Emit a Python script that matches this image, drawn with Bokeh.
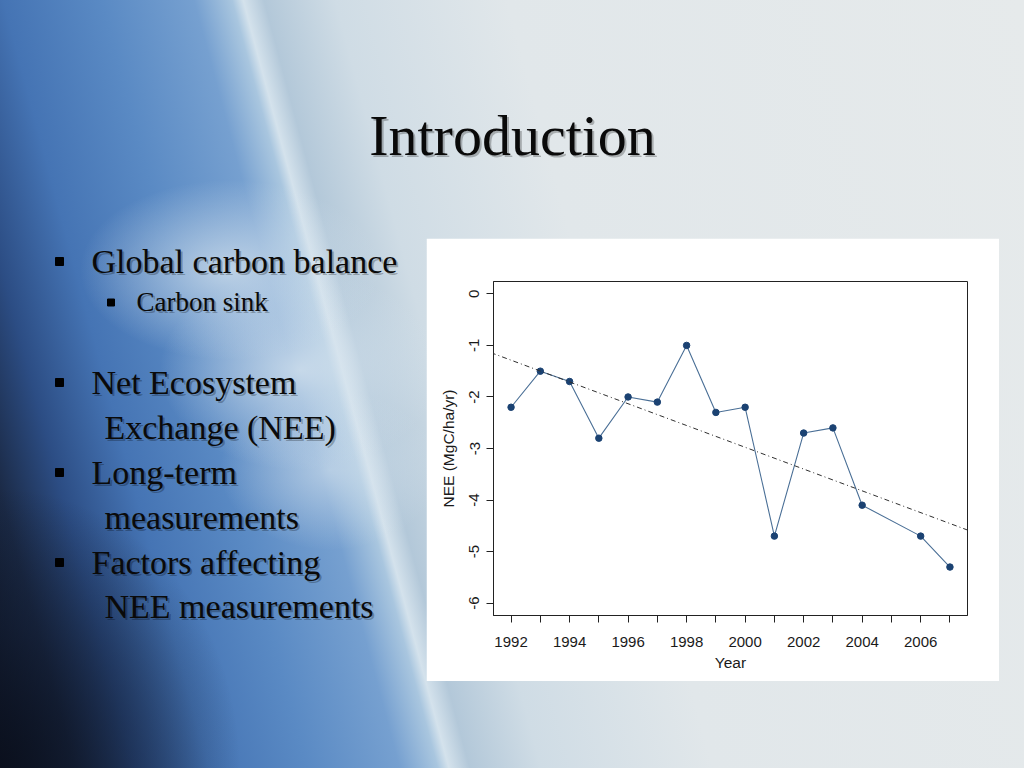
import numpy as np
from bokeh.plotting import figure
from bokeh.models import Label, FixedTicker, Slope, Range1d, GridBox
from bokeh.embed import file_html
from bokeh.resources import INLINE

# ---------------- data ----------------
years = [1992, 1993, 1994, 1995, 1996, 1997, 1998, 1999, 2000, 2001, 2002, 2003, 2004, 2006, 2007]
nee = [-2.2, -1.5, -1.7, -2.8, -2.0, -2.1, -1.0, -2.3, -2.2, -4.7, -2.7, -2.6, -4.1, -4.7, -5.3]

x_ticks = list(range(1992, 2008))
x_tick_labels = {t: (str(t) if (t % 2 == 0 and t <= 2006) else "") for t in x_ticks}
y_ticks = [0, -1, -2, -3, -4, -5, -6]
y_tick_labels = {t: str(t) for t in y_ticks}

slide_title = "Introduction"
bullet_texts = ["Global carbon balance", "Carbon sink", "Net Ecosystem", "Exchange (NEE)",
                "Long-term", "measurements", "Factors affecting", "NEE measurements"]
bullet_levels = [0, 1, 0, 0, 0, 0, 0, 0]
bullet_starts = [True, True, True, False, True, False, True, False]

# trend (least-squares fit of the series, as in the original)
slope, intercept = np.polyfit(years, nee, 1)

# ---------------- slide (background + texts) ----------------
SW, SH = 1024, 768


def glow(cx, cy, rx, ry, a):
    return (f"radial-gradient(ellipse {rx}px {ry}px at {cx}px {cy}px, "
            f"rgba(216,229,239,{a}) 0%, rgba(216,229,239,{a * 0.45:.2f}) 55%, rgba(216,229,239,0) 100%)")


bg = ", ".join([
    glow(230, 270, 150, 90, 0.75),
    glow(300, 370, 140, 100, 0.8),
    glow(330, 470, 110, 80, 0.6),
    "radial-gradient(ellipse 240px 280px at 0px 768px, rgba(10,15,28,0.85) 0%, rgba(14,22,40,0.5) 50%, rgba(20,35,65,0) 100%)",
    "linear-gradient(75deg, #0e1524 0%, #1b2a46 6%, #2c4d84 11%, #4574b4 17%, #5a8ac4 25%, "
    "#76a0d0 32.5%, #a9c6df 35.6%, #d4e2ec 36.5%, #b3c8d9 38.2%, #cfdce5 44%, #e1e7ea 58%, #e6eaeb 100%)",
])

slide = figure(width=SW, height=SH, output_backend="svg", toolbar_location=None,
               x_range=Range1d(0, SW), y_range=Range1d(SH, 0),
               min_border=0, styles={"background": bg})
slide.border_fill_color = None
slide.background_fill_color = None
slide.outline_line_color = None
slide.axis.visible = False
slide.grid.visible = False


def add_text(x, y, text, size, align="left", baseline="alphabetic", shadow=True):
    if shadow:
        slide.add_layout(Label(x=x + 2, y=y + 2, text=text, text_font="Liberation Serif",
                               text_font_size=size, text_color="black", text_alpha=0.25,
                               text_align=align, text_baseline=baseline))
    slide.add_layout(Label(x=x, y=y, text=text, text_font="Liberation Serif",
                           text_font_size=size, text_color="#0a0a0a",
                           text_align=align, text_baseline=baseline))


add_text(512, 135, slide_title, "58px", align="center")

base_y = [272, 312, 393, 438, 483, 528, 573, 617]
TXT_SHIFT = 11
sq_x, sq_y, sq_s = [], [], []
for txt, lvl, st, by in zip(bullet_texts, bullet_levels, bullet_starts, base_y):
    if lvl == 0:
        add_text(91 if st else 104, by - TXT_SHIFT, txt, "34px")
        if st:
            sq_x.append(59); sq_y.append(by - 11); sq_s.append(8)
    else:
        add_text(136, by - TXT_SHIFT, txt, "27px")
        sq_x.append(110.5); sq_y.append(by - 10); sq_s.append(7)
slide.scatter(sq_x, sq_y, size=sq_s, marker="square", fill_color="black", line_color="black")

# ---------------- chart ----------------
CW, CH = 573, 443
FL, FR, FT, FB = 67, 541, 43, 377  # frame box inside the chart panel

p = figure(width=CW, height=CH, output_backend="svg", toolbar_location=None,
           x_range=Range1d(1991.4, 2007.6), y_range=Range1d(-6.24, 0.24),
           min_border_left=FL, min_border_right=CW - FR,
           min_border_top=FT, min_border_bottom=CH - FB)
p.border_fill_color = "white"
p.background_fill_color = "white"
p.outline_line_color = "#222222"
p.outline_line_alpha = 1.0
p.grid.visible = False

tick_font = "Liberation Sans"
for ax in (p.xaxis, p.yaxis):
    ax.axis_line_color = "#222222"
    ax.major_tick_line_color = "#222222"
    ax.minor_tick_line_color = None
    ax.major_tick_in = 0
    ax.major_tick_out = 7
    ax.major_label_text_font = tick_font
    ax.major_label_text_font_size = "15px"
    ax.major_label_text_color = "#1a1a1a"
    ax.axis_label_text_font = tick_font
    ax.axis_label_text_font_size = "15.5px"
    ax.axis_label_text_font_style = "normal"
    ax.axis_label_text_color = "#1a1a1a"

p.xaxis.ticker = FixedTicker(ticks=x_ticks)
p.xaxis.major_label_overrides = x_tick_labels
p.xaxis.axis_label = "Year"
p.xaxis.major_label_standoff = 14
p.xaxis.axis_label_standoff = 4

p.yaxis.ticker = FixedTicker(ticks=y_ticks)
p.yaxis.major_label_overrides = y_tick_labels
p.yaxis.axis_label = "NEE (MgC/ha/yr)"
p.yaxis.major_label_orientation = "vertical"
p.yaxis.major_label_standoff = 7
p.yaxis.axis_label_standoff = 10

p.line(years, nee, line_color="#4a6f96", line_width=1.1)
p.scatter(years, nee, size=6.5, fill_color="#1b4272", line_color="#1b4272")
p.add_layout(Slope(gradient=slope, y_intercept=intercept, line_color="#303030",
                   line_dash="5 3 1 3", line_width=1))

# ---------------- overlay: chart panel placed on the slide ----------------
layout = GridBox(children=[(slide, 0, 0, 3, 3), (p, 1, 1, 1, 1)],
                 rows=["238px", f"{CH}px", f"{SH - 238 - CH}px"],
                 cols=["426px", f"{CW}px", f"{SW - 426 - CW}px"],
                 width=SW, height=SH)

open("out.html", "w").write(file_html(layout, INLINE))
